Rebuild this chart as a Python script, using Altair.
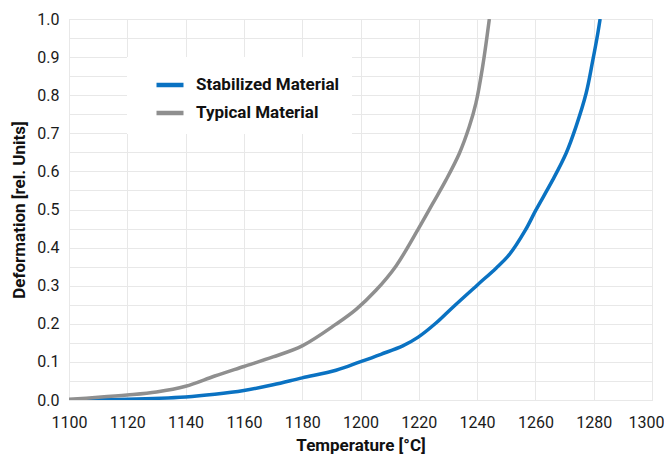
import altair as alt
import pandas as pd

FONT = "Roboto"

# Typical Material
typ_t = [1100, 1110, 1120, 1130, 1140, 1150, 1160, 1170, 1180, 1191.6, 1198.5, 1205.3,
         1212.2, 1219.6, 1224.8, 1229.3, 1233.9, 1237.3, 1239.6, 1241.9, 1244.2]
typ_y = [0.002, 0.007, 0.013, 0.021, 0.036, 0.063, 0.088, 0.113, 0.142, 0.199, 0.238, 0.288,
         0.352, 0.446, 0.516, 0.577, 0.647, 0.717, 0.779, 0.875, 1.0]

# Stabilized Material
stab_t = [1100, 1120, 1140, 1150, 1160, 1170, 1180, 1191.6, 1199.8, 1207, 1214.5, 1219.8,
          1225.9, 1231.6, 1240.1, 1246.5, 1251.1, 1256.5, 1260.2, 1265.9, 1270.5, 1273.9,
          1277.4, 1279.7, 1281.4, 1282.2]
stab_y = [0.0, 0.002, 0.008, 0.015, 0.025, 0.040, 0.058, 0.078, 0.100, 0.120, 0.142, 0.165,
          0.202, 0.243, 0.302, 0.346, 0.382, 0.445, 0.499, 0.577, 0.647, 0.717,
          0.805, 0.892, 0.962, 1.0]

series_names = ["Stabilized Material", "Typical Material"]
series_colors = ["#0a72c2", "#8f8f8f"]

x_ticks = list(range(1100, 1301, 20))
y_grid = [round(i * 0.05, 2) for i in range(21)]

df = pd.concat([
    pd.DataFrame({"T": stab_t, "D": stab_y, "Material": series_names[0], "o": range(len(stab_t))}),
    pd.DataFrame({"T": typ_t, "D": typ_y, "Material": series_names[1], "o": range(len(typ_t))}),
])

chart = alt.Chart(df).mark_line(strokeWidth=3.5, interpolate="catmull-rom", clip=True).encode(
    x=alt.X("T:Q", scale=alt.Scale(domain=[1100, 1300], nice=False),
            axis=alt.Axis(values=x_ticks, format="d", title="Temperature [°C]",
                          labelPadding=14, titlePadding=7, labelOverlap=False,
                          labelFlush=False, labelBound=False,
                          labelOffset=alt.condition("datum.value == 1300", alt.value(-6), alt.value(0)))),
    y=alt.Y("D:Q", scale=alt.Scale(domain=[0, 1], nice=False),
            axis=alt.Axis(values=y_grid, title="Deformation [rel. Units]",
                          labelExpr="round(datum.value*100) % 10 == 0 ? format(datum.value, '.1f') : ''",
                          labelPadding=10, titlePadding=8, labelOverlap=False,
                          labelFlush=False, labelBound=False)),
    color=alt.Color("Material:N",
                    scale=alt.Scale(domain=series_names, range=series_colors),
                    legend=alt.Legend(title=None, orient="none", legendX=58, legendY=38,
                                      fillColor="white", padding=12, symbolOffset=15,
                                      symbolType="stroke", symbolSize=729, symbolStrokeWidth=4.5,
                                      labelFontSize=17, labelFont=FONT, labelFontWeight="bold",
                                      labelColor="#111111", labelOffset=10, rowPadding=3,
                                      labelLimit=400,
                                      labelExpr="datum.label + '             '")),
    order="o:Q",
).properties(
    width=583, height=381,
    autosize=alt.AutoSizeParams(type="none"),
    padding={"left": 61, "top": 11, "right": 12, "bottom": 54},
).configure_view(
    stroke="#dddddd", strokeWidth=1
).configure_axis(
    grid=True, gridColor="#e8e8e8", gridWidth=1,
    domain=False, ticks=False,
    labelFont=FONT, labelFontSize=16, labelColor="#1a1a1a",
    titleFont=FONT, titleFontSize=17, titleFontWeight="bold", titleColor="#111111",
)

chart.save("out.html", embed_options={"renderer": "svg", "actions": False})
